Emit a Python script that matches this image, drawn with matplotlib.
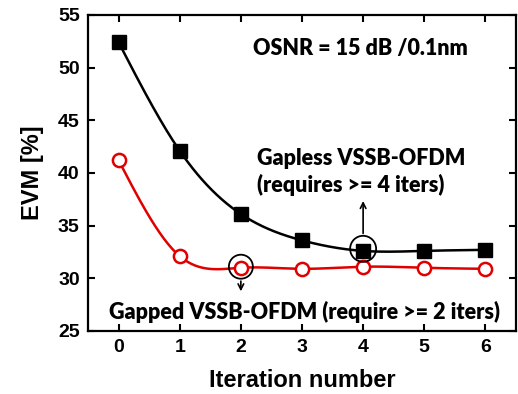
import numpy as np
import matplotlib
matplotlib.use("Agg")
import matplotlib.pyplot as plt
from matplotlib.patches import Ellipse

iterations = [0, 1, 2, 3, 4, 5, 6]
gapless_evm = [52.4, 42.1, 36.1, 33.6, 32.6, 32.6, 32.7]
gapped_evm = [41.2, 32.1, 31.0, 30.9, 31.1, 31.0, 30.9]
xticks = [0, 1, 2, 3, 4, 5, 6]
yticks = [25, 30, 35, 40, 45, 50, 55]


def natural_spline(x, y, n=300):
    x = np.asarray(x, float); y = np.asarray(y, float)
    N = len(x); h = np.diff(x)
    A = np.zeros((N, N)); b = np.zeros(N)
    A[0, 0] = A[-1, -1] = 1
    for i in range(1, N - 1):
        A[i, i - 1] = h[i - 1]; A[i, i] = 2 * (h[i - 1] + h[i]); A[i, i + 1] = h[i]
        b[i] = 6 * ((y[i + 1] - y[i]) / h[i] - (y[i] - y[i - 1]) / h[i - 1])
    M = np.linalg.solve(A, b)
    xs = np.linspace(x[0], x[-1], n); ys = np.empty_like(xs)
    for k, t in enumerate(xs):
        i = min(np.searchsorted(x, t, side='right') - 1, N - 2)
        a, c = x[i], x[i + 1]; hh = c - a
        ys[k] = (M[i] * (c - t) ** 3 / (6 * hh) + M[i + 1] * (t - a) ** 3 / (6 * hh)
                 + (y[i] / hh - M[i] * hh / 6) * (c - t) + (y[i + 1] / hh - M[i + 1] * hh / 6) * (t - a))
    return xs, ys


plt.rcParams['font.family'] = ['Liberation Sans', 'DejaVu Sans']
plt.rcParams['font.weight'] = 'bold'
fig = plt.figure(figsize=(5.18, 3.94), dpi=100)
ax = fig.add_axes([0.170, 0.160, 0.826, 0.802])

xs, ys = natural_spline(iterations, gapless_evm)
ax.plot(xs, ys, color='black', lw=1.8, zorder=2)
ax.plot(iterations, gapless_evm, 's', color='black', ms=10, zorder=3)
xs, ys = natural_spline(iterations, gapped_evm)
ax.plot(xs, ys, color='#e00000', lw=1.8, zorder=2)
ax.plot(iterations, gapped_evm, 'o', mfc='white', mec='#e00000', mew=1.8, ms=9.5, zorder=3)

ax.set_xlim(-0.5, 6.5)
ax.set_ylim(25, 55)
ax.set_xticks(xticks)
ax.set_yticks(yticks)
ax.tick_params(direction='in', length=5, width=1.5, top=True, right=True,
               labelsize=14, pad=6)
for s in ax.spines.values():
    s.set_linewidth(1.6)
ax.set_xlabel('Iteration number', fontsize=17, fontweight='bold', labelpad=9)
ax.set_ylabel('EVM [%]', fontsize=17, fontweight='bold', labelpad=10)


def circ(x, y, r_px):
    p0 = ax.transData.transform((x, y))
    p1 = ax.transData.inverted().transform((p0[0] + r_px, p0[1] + r_px))
    w = 2 * (p1[0] - x); hgt = 2 * (p1[1] - y)
    ax.add_patch(Ellipse((x, y), w, hgt, fill=False, ec='black', lw=1.3, zorder=4))


circ(2, 31.1, 12)
circ(4, 32.8, 13)
ax.annotate('', xy=(2, 28.5), xytext=(2, 30.0),
            arrowprops=dict(arrowstyle='->', color='black', lw=1.2))
ax.annotate('', xy=(4, 37.6), xytext=(4, 34.0),
            arrowprops=dict(arrowstyle='->', color='black', lw=1.2))

tf = dict(family=['Lato', 'DejaVu Sans'], fontweight='heavy', fontsize=15.5)
ax.text(2.2, 51.8, 'OSNR = 15 dB /0.1nm', ha='left', va='center', **tf)
ax.text(2.26, 41.4, 'Gapless VSSB-OFDM', ha='left', va='center', **tf)
ax.text(2.26, 38.9, '(requires >= 4 iters)', ha='left', va='center', **tf)
ax.text(-0.16, 26.8, 'Gapped VSSB-OFDM (require >= 2 iters)', ha='left', va='center', **tf)

fig.savefig('out.png', dpi=100)
